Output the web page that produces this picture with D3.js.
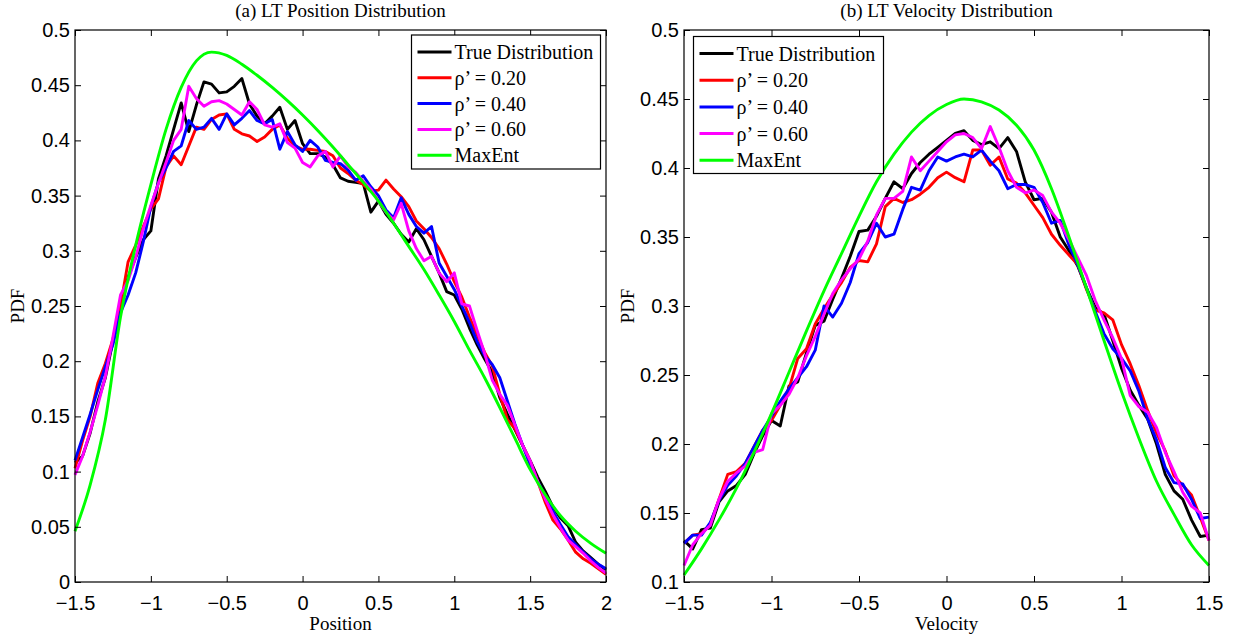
<!DOCTYPE html>
<html>
<head>
<meta charset="utf-8">
<script src="https://cdn.jsdelivr.net/npm/d3@7"></script>
<style>
  html, body { margin: 0; padding: 0; background: #fff; }
  svg { display: block; }
  .tick text { font-family: "Liberation Sans", Arial, sans-serif; font-size: 20px; fill: #000; }
  .serif { font-family: "Liberation Serif", "Times New Roman", serif; fill: #000; }
</style>
</head>
<body>
<div id="chart"></div>
<script>
// ---- data: (a) position ----
var posX = [-1.5, -1.45, -1.4, -1.35, -1.3, -1.25, -1.2, -1.15, -1.1, -1.05,
  -1.0, -0.95, -0.9, -0.85, -0.8, -0.75, -0.7, -0.65, -0.6, -0.55,
  -0.5, -0.45, -0.4, -0.35, -0.3, -0.25, -0.2, -0.15, -0.1, -0.05,
  0.0, 0.05, 0.1, 0.15, 0.2, 0.25, 0.3, 0.35, 0.4, 0.45,
  0.5, 0.55, 0.6, 0.65, 0.7, 0.75, 0.8, 0.85, 0.9, 0.95,
  1.0, 1.05, 1.1, 1.15, 1.2, 1.25, 1.3, 1.35, 1.4, 1.45,
  1.5, 1.55, 1.6, 1.65, 1.7, 1.75, 1.8, 1.85, 1.9, 1.95, 2.0];
var posTrue = [0.108, 0.114, 0.135, 0.163, 0.185, 0.218, 0.250, 0.276, 0.294, 0.310,
  0.318, 0.365, 0.386, 0.410, 0.434, 0.408, 0.432, 0.453, 0.451, 0.443,
  0.444, 0.449, 0.456, 0.433, 0.422, 0.415, 0.422, 0.430, 0.410, 0.418,
  0.397, 0.388, 0.388, 0.385, 0.378, 0.366, 0.363, 0.362, 0.361, 0.335,
  0.345, 0.333, 0.325, 0.315, 0.308, 0.320, 0.310, 0.295, 0.280, 0.263,
  0.260, 0.247, 0.230, 0.215, 0.202, 0.190, 0.167, 0.152, 0.138, 0.124,
  0.110, 0.095, 0.082, 0.068, 0.058, 0.051, 0.036, 0.028, 0.022, 0.016, 0.011];
var posRho20 = [0.103, 0.128, 0.150, 0.180, 0.198, 0.220, 0.250, 0.290, 0.305, 0.322,
  0.338, 0.347, 0.376, 0.386, 0.378, 0.395, 0.412, 0.410, 0.419, 0.423,
  0.424, 0.410, 0.406, 0.404, 0.399, 0.403, 0.410, 0.414, 0.402, 0.395,
  0.392, 0.392, 0.391, 0.390, 0.386, 0.375, 0.370, 0.364, 0.360, 0.354,
  0.355, 0.364, 0.356, 0.349, 0.340, 0.327, 0.320, 0.312, 0.302, 0.288,
  0.272, 0.258, 0.240, 0.224, 0.208, 0.196, 0.170, 0.147, 0.139, 0.124,
  0.109, 0.091, 0.072, 0.056, 0.048, 0.038, 0.027, 0.021, 0.017, 0.012, 0.007];
var posRho40 = [0.110, 0.131, 0.152, 0.174, 0.195, 0.215, 0.244, 0.260, 0.280, 0.308,
  0.340, 0.362, 0.375, 0.390, 0.395, 0.418, 0.410, 0.412, 0.420, 0.410,
  0.424, 0.414, 0.420, 0.427, 0.418, 0.415, 0.419, 0.392, 0.408, 0.396,
  0.390, 0.400, 0.394, 0.382, 0.380, 0.379, 0.373, 0.364, 0.368, 0.358,
  0.350, 0.337, 0.330, 0.348, 0.333, 0.322, 0.316, 0.322, 0.289, 0.277,
  0.265, 0.250, 0.235, 0.218, 0.205, 0.197, 0.185, 0.164, 0.143, 0.124,
  0.106, 0.091, 0.078, 0.064, 0.052, 0.041, 0.034, 0.027, 0.021, 0.016, 0.012];
var posRho60 = [0.097, 0.114, 0.136, 0.160, 0.186, 0.222, 0.260, 0.273, 0.294, 0.320,
  0.341, 0.361, 0.380, 0.400, 0.410, 0.449, 0.438, 0.431, 0.435, 0.436,
  0.433, 0.428, 0.423, 0.435, 0.428, 0.414, 0.412, 0.415, 0.398, 0.393,
  0.380, 0.376, 0.386, 0.390, 0.376, 0.386, 0.376, 0.371, 0.363, 0.356,
  0.345, 0.335, 0.328, 0.343, 0.318, 0.302, 0.291, 0.295, 0.280, 0.272,
  0.280, 0.252, 0.250, 0.228, 0.207, 0.183, 0.170, 0.160, 0.142, 0.124,
  0.110, 0.091, 0.075, 0.061, 0.049, 0.038, 0.032, 0.026, 0.019, 0.013, 0.008];
var posMaxEntX = [-1.5, -1.4, -1.3, -1.2, -1.1, -1.0, -0.9, -0.8, -0.7, -0.6,
  -0.5, -0.4, -0.3, -0.2, -0.1, 0.0, 0.1, 0.2, 0.3, 0.4,
  0.5, 0.6, 0.7, 0.8, 0.9, 1.0, 1.1, 1.2, 1.3, 1.4,
  1.5, 1.6, 1.7, 1.8, 1.9, 2.0];
var posMaxEnt = [0.046, 0.088, 0.147, 0.240, 0.305, 0.360, 0.410, 0.448, 0.472, 0.480,
  0.477, 0.469, 0.459, 0.448, 0.436, 0.423, 0.409, 0.394, 0.378, 0.362,
  0.345, 0.325, 0.304, 0.283, 0.260, 0.236, 0.210, 0.185, 0.158, 0.130,
  0.102, 0.079, 0.060, 0.046, 0.035, 0.026];

// ---- data: (b) velocity ----
var velX = [-1.5, -1.45, -1.4, -1.35, -1.3, -1.25, -1.2, -1.15, -1.1, -1.05,
  -1.0, -0.95, -0.9, -0.85, -0.8, -0.75, -0.7, -0.65, -0.6, -0.55,
  -0.5, -0.45, -0.4, -0.35, -0.3, -0.25, -0.2, -0.15, -0.1, -0.05,
  0.0, 0.05, 0.1, 0.15, 0.2, 0.25, 0.3, 0.35, 0.4, 0.45,
  0.5, 0.55, 0.6, 0.65, 0.7, 0.75, 0.8, 0.85, 0.9, 0.95,
  1.0, 1.05, 1.1, 1.15, 1.2, 1.25, 1.3, 1.35, 1.4, 1.45, 1.5];
var velTrue = [0.130, 0.124, 0.138, 0.139, 0.158, 0.166, 0.170, 0.178, 0.193, 0.206,
  0.217, 0.213, 0.242, 0.245, 0.266, 0.286, 0.289, 0.305, 0.320, 0.336,
  0.354, 0.355, 0.365, 0.378, 0.390, 0.385, 0.396, 0.404, 0.410, 0.415,
  0.420, 0.425, 0.427, 0.420, 0.417, 0.419, 0.414, 0.422, 0.412, 0.390,
  0.377, 0.378, 0.368, 0.350, 0.340, 0.329, 0.313, 0.299, 0.294, 0.275,
  0.255, 0.239, 0.228, 0.218, 0.200, 0.178, 0.166, 0.160, 0.145, 0.133, 0.134];
var velRho20 = [0.128, 0.134, 0.135, 0.142, 0.160, 0.178, 0.180, 0.186, 0.198, 0.210,
  0.217, 0.228, 0.240, 0.262, 0.269, 0.287, 0.298, 0.308, 0.317, 0.328,
  0.333, 0.332, 0.345, 0.372, 0.378, 0.375, 0.377, 0.381, 0.386, 0.393,
  0.397, 0.393, 0.390, 0.413, 0.413, 0.402, 0.408, 0.392, 0.389, 0.382,
  0.373, 0.364, 0.352, 0.344, 0.337, 0.330, 0.312, 0.297, 0.295, 0.290,
  0.272, 0.258, 0.242, 0.224, 0.208, 0.195, 0.177, 0.170, 0.163, 0.147, 0.130];
var velRho40 = [0.128, 0.134, 0.134, 0.143, 0.159, 0.170, 0.177, 0.186, 0.198, 0.210,
  0.220, 0.231, 0.240, 0.248, 0.256, 0.268, 0.300, 0.292, 0.302, 0.317,
  0.338, 0.346, 0.360, 0.350, 0.352, 0.370, 0.386, 0.384, 0.398, 0.408,
  0.405, 0.408, 0.410, 0.408, 0.413, 0.405, 0.398, 0.385, 0.388, 0.388,
  0.386, 0.375, 0.360, 0.362, 0.344, 0.330, 0.313, 0.296, 0.280, 0.269,
  0.262, 0.253, 0.238, 0.218, 0.203, 0.183, 0.172, 0.171, 0.160, 0.146, 0.147];
var velRho60 = [0.112, 0.127, 0.135, 0.141, 0.160, 0.173, 0.179, 0.184, 0.194, 0.196,
  0.222, 0.228, 0.236, 0.248, 0.264, 0.278, 0.294, 0.309, 0.319, 0.327,
  0.334, 0.347, 0.366, 0.378, 0.378, 0.383, 0.408, 0.398, 0.405, 0.412,
  0.419, 0.424, 0.425, 0.422, 0.414, 0.430, 0.415, 0.398, 0.386, 0.382,
  0.384, 0.380, 0.368, 0.360, 0.348, 0.335, 0.322, 0.304, 0.290, 0.277,
  0.262, 0.235, 0.227, 0.223, 0.212, 0.194, 0.180, 0.165, 0.155, 0.150, 0.130];
var velMaxEntX = [-1.5, -1.4, -1.3, -1.2, -1.1, -1.0, -0.9, -0.8, -0.7, -0.6,
  -0.5, -0.4, -0.3, -0.2, -0.1, 0.0, 0.1, 0.2, 0.3, 0.4,
  0.5, 0.6, 0.7, 0.8, 0.9, 1.0, 1.1, 1.2, 1.3, 1.4, 1.5];
var velMaxEnt = [0.105, 0.124, 0.145, 0.168, 0.194, 0.222, 0.252, 0.282, 0.311, 0.338,
  0.365, 0.390, 0.410, 0.426, 0.438, 0.446, 0.450, 0.448, 0.442, 0.431,
  0.413, 0.385, 0.350, 0.313, 0.275, 0.238, 0.204, 0.173, 0.149, 0.127, 0.112];

// ---- ticks / labels ----
var posXTicks = [-1.5, -1, -0.5, 0, 0.5, 1, 1.5, 2];
var posYTicks = [0, 0.05, 0.1, 0.15, 0.2, 0.25, 0.3, 0.35, 0.4, 0.45, 0.5];
var velXTicks = [-1.5, -1, -0.5, 0, 0.5, 1, 1.5];
var velYTicks = [0.1, 0.15, 0.2, 0.25, 0.3, 0.35, 0.4, 0.45, 0.5];
var seriesNames = ['True Distribution', 'ρ’ = 0.20', 'ρ’ = 0.40', 'ρ’ = 0.60', 'MaxEnt'];
var seriesColors = ['#000000', '#ff0000', '#0000ff', '#ff00ff', '#00ff00'];

!(function () {

  var svg = d3.select('#chart').append('svg')
    .attr('width', 1237)
    .attr('height', 634);

  function fmt(d) {
    return d < 0 ? '\u2212' + Math.abs(d) : String(d);
  }

  // one panel of the figure
  function drawPanel(cfg) {
    var x = d3.scaleLinear().domain(cfg.xDomain).range([cfg.left, cfg.right]),
        y = d3.scaleLinear().domain(cfg.yDomain).range([cfg.bottom, cfg.top]);

    var g = svg.append('g');

    // curves
    var line = d3.line()
      .x(function (d) { return x(d[0]); })
      .y(function (d) { return y(d[1]); });

    cfg.series.forEach(function (s, i) {
      var pts = d3.zip(s.xs, s.ys);
      g.append('path')
        .attr('d', line.curve(s.smooth ? d3.curveMonotoneX : d3.curveLinear)(pts))
        .attr('fill', 'none')
        .attr('stroke', seriesColors[i])
        .attr('stroke-width', 2.9)
        .attr('stroke-linejoin', 'round');
    });

    // axes, ticks inward, mirrored on top/right
    g.append('g')
      .attr('transform', 'translate(0,' + cfg.bottom + ')')
      .call(d3.axisBottom(x).tickValues(cfg.xTicks).tickFormat(fmt)
        .tickSizeInner(-6).tickSizeOuter(0).tickPadding(14));
    g.append('g')
      .attr('transform', 'translate(' + cfg.left + ',0)')
      .call(d3.axisLeft(y).tickValues(cfg.yTicks).tickFormat(fmt)
        .tickSizeInner(-6).tickSizeOuter(0).tickPadding(5));
    g.append('g')
      .attr('transform', 'translate(0,' + cfg.top + ')')
      .call(d3.axisTop(x).tickValues(cfg.xTicks).tickFormat('')
        .tickSizeInner(-6).tickSizeOuter(0));
    g.append('g')
      .attr('transform', 'translate(' + cfg.right + ',0)')
      .call(d3.axisRight(y).tickValues(cfg.yTicks).tickFormat('')
        .tickSizeInner(-6).tickSizeOuter(0));
    g.selectAll('.domain').remove();
    g.selectAll('.tick line').attr('stroke', '#000');

    g.append('rect')
      .attr('x', cfg.left).attr('y', cfg.top)
      .attr('width', cfg.right - cfg.left).attr('height', cfg.bottom - cfg.top)
      .attr('fill', 'none').attr('stroke', '#000').attr('stroke-width', 1.2);

    // texts
    var cx = (cfg.left + cfg.right) / 2;
    g.append('text').attr('class', 'serif')
      .attr('x', cx).attr('y', 17)
      .attr('text-anchor', 'middle').style('font-size', '19px')
      .text(cfg.title);
    g.append('text').attr('class', 'serif')
      .attr('x', cx).attr('y', 630)
      .attr('text-anchor', 'middle').style('font-size', '19px')
      .text(cfg.xLabel);
    g.append('text').attr('class', 'serif')
      .attr('transform', 'translate(' + cfg.yLabelX + ',' + (cfg.top + cfg.bottom) / 2 + ') rotate(-90)')
      .attr('text-anchor', 'middle').style('font-size', '19px')
      .text('PDF');

    // legend
    var lg = cfg.legend;
    g.append('rect')
      .attr('x', lg.x).attr('y', lg.y).attr('width', lg.w).attr('height', lg.h)
      .attr('fill', '#fff').attr('stroke', '#000').attr('stroke-width', 1.2);
    seriesNames.forEach(function (name, i) {
      var cy = lg.y + lg.first + i * lg.step;
      g.append('line')
        .attr('x1', lg.x + 6).attr('x2', lg.x + 40)
        .attr('y1', cy).attr('y2', cy)
        .attr('stroke', seriesColors[i]).attr('stroke-width', 3);
      g.append('text').attr('class', 'serif')
        .attr('x', lg.x + 43).attr('y', cy).attr('dy', '0.35em')
        .style('font-size', '20px')
        .text(name);
    });
  }

  drawPanel({
    left: 75, right: 606, top: 30, bottom: 582,
    xDomain: [-1.5, 2], yDomain: [0, 0.5],
    xTicks: posXTicks, yTicks: posYTicks,
    title: '(a) LT Position Distribution', xLabel: 'Position', yLabelX: 24,
    legend: { x: 411.5, y: 35, w: 189, h: 134, first: 17, step: 25.8 },
    series: [
      { xs: posX, ys: posTrue },
      { xs: posX, ys: posRho20 },
      { xs: posX, ys: posRho40 },
      { xs: posX, ys: posRho60 },
      { xs: posMaxEntX, ys: posMaxEnt, smooth: true }
    ]
  });

  drawPanel({
    left: 684, right: 1209, top: 30, bottom: 582,
    xDomain: [-1.5, 1.5], yDomain: [0.1, 0.5],
    xTicks: velXTicks, yTicks: velYTicks,
    title: '(b) LT Velocity Distribution', xLabel: 'Velocity', yLabelX: 634,
    legend: { x: 693.5, y: 36.5, w: 190, h: 137, first: 17, step: 26.7 },
    series: [
      { xs: velX, ys: velTrue },
      { xs: velX, ys: velRho20 },
      { xs: velX, ys: velRho40 },
      { xs: velX, ys: velRho60 },
      { xs: velMaxEntX, ys: velMaxEnt, smooth: true }
    ]
  });

})();
</script>
</body>
</html>
